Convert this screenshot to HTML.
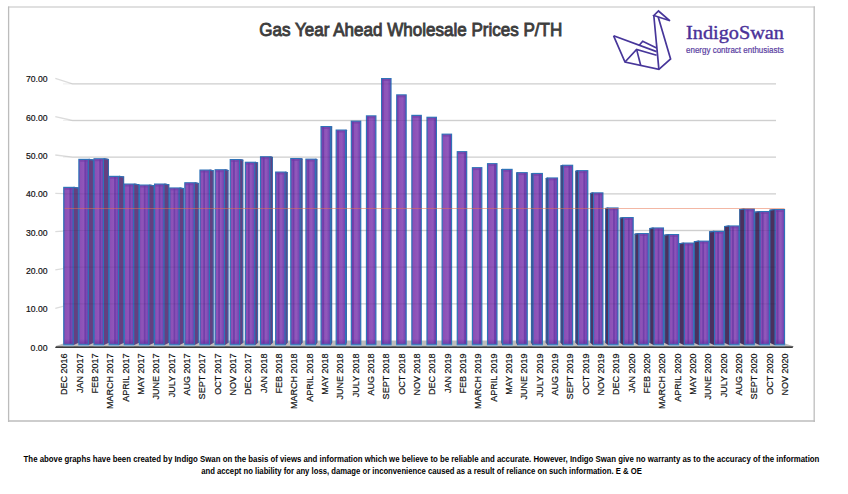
<!DOCTYPE html>
<html><head><meta charset="utf-8">
<style>
html,body{margin:0;padding:0;background:#fff;}
body{width:848px;height:494px;overflow:hidden;position:relative;font-family:"Liberation Sans",sans-serif;}
svg{position:absolute;left:0;top:0;}
text{font-family:"Liberation Sans",sans-serif;}
</style></head><body>
<svg width="848" height="494" viewBox="0 0 848 494">
<defs>
<linearGradient id="fg" x1="0" y1="0" x2="1" y2="0">
<stop offset="0" stop-color="#7d45ad"/>
<stop offset="0.15" stop-color="#8c50b6"/>
<stop offset="0.6" stop-color="#9158bb"/>
<stop offset="0.8" stop-color="#7f4bb5"/>
<stop offset="1" stop-color="#6d3fae"/>
</linearGradient>
<linearGradient id="bg" x1="0" y1="0" x2="0" y2="1">
<stop offset="0" stop-color="#5a2a9a" stop-opacity="0"/>
<stop offset="1" stop-color="#5a2a9a" stop-opacity="0.55"/>
</linearGradient>
</defs>
<rect width="848" height="494" fill="#fff"/>
<line x1="8" y1="7" x2="815" y2="7" stroke="#d6d6d6" stroke-width="1.6"/>
<line x1="8.6" y1="6.5" x2="8.6" y2="422" stroke="#bcbcbc" stroke-width="1.3"/>
<line x1="814.2" y1="6.5" x2="814.2" y2="422" stroke="#c2c2c2" stroke-width="1.4"/>
<line x1="8" y1="421" x2="815" y2="421" stroke="#bdbdbd" stroke-width="1.6"/>
<polyline points="55.3,308.28 72.5,303.83 776,303.83" fill="none" stroke="#dcdcdc" stroke-width="1.3"/>
<polyline points="55.3,269.96 72.5,267.16 776,267.16" fill="none" stroke="#dcdcdc" stroke-width="1.3"/>
<polyline points="55.3,231.64 72.5,230.49 776,230.49" fill="none" stroke="#dcdcdc" stroke-width="1.3"/>
<polyline points="55.3,193.32 72.5,193.82 776,193.82" fill="none" stroke="#dcdcdc" stroke-width="1.3"/>
<polyline points="55.3,155 72.5,157.15 776,157.15" fill="none" stroke="#dcdcdc" stroke-width="1.3"/>
<polyline points="55.3,116.68 72.5,120.48 776,120.48" fill="none" stroke="#dcdcdc" stroke-width="1.3"/>
<polyline points="55.3,78.36 72.5,83.81 776,83.81" fill="none" stroke="#dcdcdc" stroke-width="1.3"/>
<polygon points="72.5,340.4 776,340.4 793.5,346.3 55,346.3" fill="#bdbdbd"/>
<polygon points="56,346.2 793.5,346.2 792.5,348 55,348" fill="#3a3a3a"/>
<g><polygon points="72.27,187.8 73.77,186.8 78.7,187.6 78.7,342.8 73.77,344.9 72.27,344.9" fill="#653f80"/><line x1="73.77" y1="187.3" x2="78.7" y2="188.1" stroke="#2f73b8" stroke-width="1.2"/><line x1="78.25" y1="187.6" x2="78.25" y2="342.8" stroke="#2f6fb0" stroke-width="0.9"/><polygon points="87.4,159.8 88.9,158.8 93.84,159.6 93.84,342.8 88.9,344.9 87.4,344.9" fill="#653f80"/><line x1="88.9" y1="159.3" x2="93.84" y2="160.1" stroke="#2f73b8" stroke-width="1.2"/><line x1="93.39" y1="159.6" x2="93.39" y2="342.8" stroke="#2f6fb0" stroke-width="0.9"/><polygon points="102.53,159.2 104.03,158.2 108.97,159 108.97,342.8 104.03,344.9 102.53,344.9" fill="#653f80"/><line x1="104.03" y1="158.7" x2="108.97" y2="159.5" stroke="#2f73b8" stroke-width="1.2"/><line x1="108.52" y1="159" x2="108.52" y2="342.8" stroke="#2f6fb0" stroke-width="0.9"/><polygon points="117.67,176.8 119.17,175.8 124.1,176.6 124.1,342.8 119.17,344.9 117.67,344.9" fill="#653f80"/><line x1="119.17" y1="176.3" x2="124.1" y2="177.1" stroke="#2f73b8" stroke-width="1.2"/><line x1="123.65" y1="176.6" x2="123.65" y2="342.8" stroke="#2f6fb0" stroke-width="0.9"/><polygon points="132.8,184.5 134.3,183.5 139.24,184.3 139.24,342.8 134.3,344.9 132.8,344.9" fill="#653f80"/><line x1="134.3" y1="184" x2="139.24" y2="184.8" stroke="#2f73b8" stroke-width="1.2"/><line x1="138.79" y1="184.3" x2="138.79" y2="342.8" stroke="#2f6fb0" stroke-width="0.9"/><polygon points="147.94,185.5 149.44,184.5 154.38,185.3 154.38,342.8 149.44,344.9 147.94,344.9" fill="#653f80"/><line x1="149.44" y1="185" x2="154.38" y2="185.8" stroke="#2f73b8" stroke-width="1.2"/><line x1="153.93" y1="185.3" x2="153.93" y2="342.8" stroke="#2f6fb0" stroke-width="0.9"/><polygon points="163.07,184.5 164.57,183.5 169.2,184.3 169.2,342.8 164.57,344.9 163.07,344.9" fill="#653f80"/><line x1="164.57" y1="184" x2="169.2" y2="184.8" stroke="#2f73b8" stroke-width="1.2"/><line x1="168.75" y1="184.3" x2="168.75" y2="342.8" stroke="#2f6fb0" stroke-width="0.9"/><polygon points="178.21,188.4 179.71,187.4 184.01,188.2 184.01,342.8 179.71,344.9 178.21,344.9" fill="#653f80"/><line x1="179.71" y1="187.9" x2="184.01" y2="188.7" stroke="#2f73b8" stroke-width="1.2"/><line x1="183.56" y1="188.2" x2="183.56" y2="342.8" stroke="#2f6fb0" stroke-width="0.9"/><polygon points="193.34,183.2 194.84,182.2 198.82,183 198.82,342.8 194.84,344.9 193.34,344.9" fill="#653f80"/><line x1="194.84" y1="182.7" x2="198.82" y2="183.5" stroke="#2f73b8" stroke-width="1.2"/><line x1="198.37" y1="183" x2="198.37" y2="342.8" stroke="#2f6fb0" stroke-width="0.9"/><polygon points="208.48,170.5 209.98,169.5 213.63,170.3 213.63,342.8 209.98,344.9 208.48,344.9" fill="#653f80"/><line x1="209.98" y1="170" x2="213.63" y2="170.8" stroke="#2f73b8" stroke-width="1.2"/><line x1="213.18" y1="170.3" x2="213.18" y2="342.8" stroke="#2f6fb0" stroke-width="0.9"/><polygon points="223.62,170.2 225.12,169.2 228.44,170 228.44,342.8 225.12,344.9 223.62,344.9" fill="#653f80"/><line x1="225.12" y1="169.7" x2="228.44" y2="170.5" stroke="#2f73b8" stroke-width="1.2"/><line x1="227.99" y1="170" x2="227.99" y2="342.8" stroke="#2f6fb0" stroke-width="0.9"/><polygon points="238.75,160 240.25,159 243.25,159.8 243.25,342.8 240.25,344.9 238.75,344.9" fill="#653f80"/><line x1="240.25" y1="159.5" x2="243.25" y2="160.3" stroke="#2f73b8" stroke-width="1.2"/><line x1="242.8" y1="159.8" x2="242.8" y2="342.8" stroke="#2f6fb0" stroke-width="0.9"/><polygon points="253.88,162.7 255.38,161.7 258.06,162.5 258.06,342.8 255.38,344.9 253.88,344.9" fill="#653f80"/><line x1="255.38" y1="162.2" x2="258.06" y2="163" stroke="#2f73b8" stroke-width="1.2"/><line x1="257.61" y1="162.5" x2="257.61" y2="342.8" stroke="#2f6fb0" stroke-width="0.9"/><polygon points="269.02,157.2 270.52,156.2 272.87,157 272.87,342.8 270.52,344.9 269.02,344.9" fill="#653f80"/><line x1="270.52" y1="156.7" x2="272.87" y2="157.5" stroke="#2f73b8" stroke-width="1.2"/><line x1="272.42" y1="157" x2="272.42" y2="342.8" stroke="#2f6fb0" stroke-width="0.9"/><polygon points="284.16,172.5 285.66,171.5 287.68,172.3 287.68,342.8 285.66,344.9 284.16,344.9" fill="#653f80"/><line x1="285.66" y1="172" x2="287.68" y2="172.8" stroke="#2f73b8" stroke-width="1.2"/><line x1="287.23" y1="172.3" x2="287.23" y2="342.8" stroke="#2f6fb0" stroke-width="0.9"/><polygon points="299.29,159 300.79,158 302.49,158.8 302.49,342.8 300.79,344.9 299.29,344.9" fill="#653f80"/><line x1="300.79" y1="158.5" x2="302.49" y2="159.3" stroke="#2f73b8" stroke-width="1.2"/><line x1="302.04" y1="158.8" x2="302.04" y2="342.8" stroke="#2f6fb0" stroke-width="0.9"/><polygon points="314.43,159.6 315.93,158.6 317.3,159.4 317.3,342.8 315.93,344.9 314.43,344.9" fill="#653f80"/><line x1="315.93" y1="159.1" x2="317.3" y2="159.9" stroke="#2f73b8" stroke-width="1.2"/><line x1="316.85" y1="159.4" x2="316.85" y2="342.8" stroke="#2f6fb0" stroke-width="0.9"/><polygon points="329.56,127 331.06,126 332.11,126.8 332.11,342.8 331.06,344.9 329.56,344.9" fill="#653f80"/><line x1="331.06" y1="126.5" x2="332.11" y2="127.3" stroke="#2f73b8" stroke-width="1.2"/><line x1="331.66" y1="126.8" x2="331.66" y2="342.8" stroke="#2f6fb0" stroke-width="0.9"/><polygon points="344.7,130.5 346.2,129.5 346.92,130.3 346.92,342.8 346.2,344.9 344.7,344.9" fill="#653f80"/><line x1="346.2" y1="130" x2="346.92" y2="130.8" stroke="#2f73b8" stroke-width="1.2"/><line x1="346.47" y1="130.3" x2="346.47" y2="342.8" stroke="#2f6fb0" stroke-width="0.9"/><polygon points="501.35,169.6 502.08,168.8 503.58,169.8 503.58,344.9 502.08,344.9 501.35,342.8" fill="#4c305e"/><line x1="501.35" y1="170.1" x2="502.08" y2="169.3" stroke="#2f73b8" stroke-width="1.2"/><line x1="501.8" y1="169.6" x2="501.8" y2="342.8" stroke="#2f6fb0" stroke-width="0.9"/><polygon points="516.16,172.9 517.22,172.1 518.72,173.1 518.72,344.9 517.22,344.9 516.16,342.8" fill="#4c305e"/><line x1="516.16" y1="173.4" x2="517.22" y2="172.6" stroke="#2f73b8" stroke-width="1.2"/><line x1="516.61" y1="172.9" x2="516.61" y2="342.8" stroke="#2f6fb0" stroke-width="0.9"/><polygon points="530.97,173.7 532.35,172.9 533.85,173.9 533.85,344.9 532.35,344.9 530.97,342.8" fill="#4c305e"/><line x1="530.97" y1="174.2" x2="532.35" y2="173.4" stroke="#2f73b8" stroke-width="1.2"/><line x1="531.42" y1="173.7" x2="531.42" y2="342.8" stroke="#2f6fb0" stroke-width="0.9"/><polygon points="545.78,178.2 547.49,177.4 548.99,178.4 548.99,344.9 547.49,344.9 545.78,342.8" fill="#4c305e"/><line x1="545.78" y1="178.7" x2="547.49" y2="177.9" stroke="#2f73b8" stroke-width="1.2"/><line x1="546.23" y1="178.2" x2="546.23" y2="342.8" stroke="#2f6fb0" stroke-width="0.9"/><polygon points="560.59,165.5 562.62,164.7 564.12,165.7 564.12,344.9 562.62,344.9 560.59,342.8" fill="#4c305e"/><line x1="560.59" y1="166" x2="562.62" y2="165.2" stroke="#2f73b8" stroke-width="1.2"/><line x1="561.04" y1="165.5" x2="561.04" y2="342.8" stroke="#2f6fb0" stroke-width="0.9"/><polygon points="575.4,170.9 577.75,170.1 579.25,171.1 579.25,344.9 577.75,344.9 575.4,342.8" fill="#4c305e"/><line x1="575.4" y1="171.4" x2="577.75" y2="170.6" stroke="#2f73b8" stroke-width="1.2"/><line x1="575.85" y1="170.9" x2="575.85" y2="342.8" stroke="#2f6fb0" stroke-width="0.9"/><polygon points="590.21,193.1 592.89,192.3 594.39,193.3 594.39,344.9 592.89,344.9 590.21,342.8" fill="#4c305e"/><line x1="590.21" y1="193.6" x2="592.89" y2="192.8" stroke="#2f73b8" stroke-width="1.2"/><line x1="590.66" y1="193.1" x2="590.66" y2="342.8" stroke="#2f6fb0" stroke-width="0.9"/><polygon points="605.02,208.2 608.02,207.4 609.52,208.4 609.52,344.9 608.02,344.9 605.02,342.8" fill="#4c305e"/><line x1="605.02" y1="208.7" x2="608.02" y2="207.9" stroke="#2f73b8" stroke-width="1.2"/><line x1="605.47" y1="208.2" x2="605.47" y2="342.8" stroke="#2f6fb0" stroke-width="0.9"/><polygon points="619.83,217.8 623.16,217 624.66,218 624.66,344.9 623.16,344.9 619.83,342.8" fill="#4c305e"/><line x1="619.83" y1="218.3" x2="623.16" y2="217.5" stroke="#2f73b8" stroke-width="1.2"/><line x1="620.28" y1="217.8" x2="620.28" y2="342.8" stroke="#2f6fb0" stroke-width="0.9"/><polygon points="634.64,233.8 638.3,233 639.8,234 639.8,344.9 638.3,344.9 634.64,342.8" fill="#4c305e"/><line x1="634.64" y1="234.3" x2="638.3" y2="233.5" stroke="#2f73b8" stroke-width="1.2"/><line x1="635.09" y1="233.8" x2="635.09" y2="342.8" stroke="#2f6fb0" stroke-width="0.9"/><polygon points="649.45,228.2 653.43,227.4 654.93,228.4 654.93,344.9 653.43,344.9 649.45,342.8" fill="#4c305e"/><line x1="649.45" y1="228.7" x2="653.43" y2="227.9" stroke="#2f73b8" stroke-width="1.2"/><line x1="649.9" y1="228.2" x2="649.9" y2="342.8" stroke="#2f6fb0" stroke-width="0.9"/><polygon points="664.26,234.8 668.57,234 670.07,235 670.07,344.9 668.57,344.9 664.26,342.8" fill="#4c305e"/><line x1="664.26" y1="235.3" x2="668.57" y2="234.5" stroke="#2f73b8" stroke-width="1.2"/><line x1="664.71" y1="234.8" x2="664.71" y2="342.8" stroke="#2f6fb0" stroke-width="0.9"/><polygon points="679.07,243.3 683.7,242.5 685.2,243.5 685.2,344.9 683.7,344.9 679.07,342.8" fill="#4c305e"/><line x1="679.07" y1="243.8" x2="683.7" y2="243" stroke="#2f73b8" stroke-width="1.2"/><line x1="679.52" y1="243.3" x2="679.52" y2="342.8" stroke="#2f6fb0" stroke-width="0.9"/><polygon points="693.9,241.4 698.84,240.6 700.34,241.6 700.34,344.9 698.84,344.9 693.9,342.8" fill="#4c305e"/><line x1="693.9" y1="241.9" x2="698.84" y2="241.1" stroke="#2f73b8" stroke-width="1.2"/><line x1="694.35" y1="241.4" x2="694.35" y2="342.8" stroke="#2f6fb0" stroke-width="0.9"/><polygon points="709.04,231.6 713.97,230.8 715.47,231.8 715.47,344.9 713.97,344.9 709.04,342.8" fill="#4c305e"/><line x1="709.04" y1="232.1" x2="713.97" y2="231.3" stroke="#2f73b8" stroke-width="1.2"/><line x1="709.49" y1="231.6" x2="709.49" y2="342.8" stroke="#2f6fb0" stroke-width="0.9"/><polygon points="724.17,226.2 729.11,225.4 730.61,226.4 730.61,344.9 729.11,344.9 724.17,342.8" fill="#4c305e"/><line x1="724.17" y1="226.7" x2="729.11" y2="225.9" stroke="#2f73b8" stroke-width="1.2"/><line x1="724.62" y1="226.2" x2="724.62" y2="342.8" stroke="#2f6fb0" stroke-width="0.9"/><polygon points="739.31,209.2 744.24,208.4 745.74,209.4 745.74,344.9 744.24,344.9 739.31,342.8" fill="#4c305e"/><line x1="739.31" y1="209.7" x2="744.24" y2="208.9" stroke="#2f73b8" stroke-width="1.2"/><line x1="739.76" y1="209.2" x2="739.76" y2="342.8" stroke="#2f6fb0" stroke-width="0.9"/><polygon points="754.44,211.8 759.38,211 760.88,212 760.88,344.9 759.38,344.9 754.44,342.8" fill="#4c305e"/><line x1="754.44" y1="212.3" x2="759.38" y2="211.5" stroke="#2f73b8" stroke-width="1.2"/><line x1="754.89" y1="211.8" x2="754.89" y2="342.8" stroke="#2f6fb0" stroke-width="0.9"/><polygon points="769.58,209.8 774.51,209 776.01,210 776.01,344.9 774.51,344.9 769.58,342.8" fill="#4c305e"/><line x1="769.58" y1="210.3" x2="774.51" y2="209.5" stroke="#2f73b8" stroke-width="1.2"/><line x1="770.03" y1="209.8" x2="770.03" y2="342.8" stroke="#2f6fb0" stroke-width="0.9"/></g>
<rect x="63.77" y="187.4" width="9.4" height="156.9" fill="url(#fg)" stroke="#2f73b8" stroke-width="1.2"/>
<rect x="64.37" y="188" width="8.2" height="1.8" fill="#7442aa" opacity="0.75"/>
<rect x="69.45" y="188" width="1.8" height="155.7" fill="#6a3aa6" opacity="0.8"/>
<rect x="64.37" y="338.9" width="8.2" height="4.8" fill="url(#bg)"/>
<rect x="63.17" y="344.9" width="10.6" height="1.3" fill="#8aaed2"/>
<rect x="78.9" y="159.4" width="9.4" height="184.9" fill="url(#fg)" stroke="#2f73b8" stroke-width="1.2"/>
<rect x="79.5" y="160" width="8.2" height="1.8" fill="#7442aa" opacity="0.75"/>
<rect x="84.32" y="160" width="1.8" height="183.7" fill="#6a3aa6" opacity="0.8"/>
<rect x="79.5" y="338.9" width="8.2" height="4.8" fill="url(#bg)"/>
<rect x="78.3" y="344.9" width="10.6" height="1.3" fill="#8aaed2"/>
<rect x="94.03" y="158.8" width="9.4" height="185.5" fill="url(#fg)" stroke="#2f73b8" stroke-width="1.2"/>
<rect x="94.64" y="159.4" width="8.2" height="1.8" fill="#7442aa" opacity="0.75"/>
<rect x="99.2" y="159.4" width="1.8" height="184.3" fill="#6a3aa6" opacity="0.8"/>
<rect x="94.64" y="338.9" width="8.2" height="4.8" fill="url(#bg)"/>
<rect x="93.44" y="344.9" width="10.6" height="1.3" fill="#8aaed2"/>
<rect x="109.17" y="176.4" width="9.4" height="167.9" fill="url(#fg)" stroke="#2f73b8" stroke-width="1.2"/>
<rect x="109.77" y="177" width="8.2" height="1.8" fill="#7442aa" opacity="0.75"/>
<rect x="114.07" y="177" width="1.8" height="166.7" fill="#6a3aa6" opacity="0.8"/>
<rect x="109.77" y="338.9" width="8.2" height="4.8" fill="url(#bg)"/>
<rect x="108.57" y="344.9" width="10.6" height="1.3" fill="#8aaed2"/>
<rect x="124.3" y="184.1" width="9.4" height="160.2" fill="url(#fg)" stroke="#2f73b8" stroke-width="1.2"/>
<rect x="124.9" y="184.7" width="8.2" height="1.8" fill="#7442aa" opacity="0.75"/>
<rect x="128.94" y="184.7" width="1.8" height="159" fill="#6a3aa6" opacity="0.8"/>
<rect x="124.9" y="338.9" width="8.2" height="4.8" fill="url(#bg)"/>
<rect x="123.7" y="344.9" width="10.6" height="1.3" fill="#8aaed2"/>
<rect x="139.44" y="185.1" width="9.4" height="159.2" fill="url(#fg)" stroke="#2f73b8" stroke-width="1.2"/>
<rect x="140.04" y="185.7" width="8.2" height="1.8" fill="#7442aa" opacity="0.75"/>
<rect x="143.81" y="185.7" width="1.8" height="158" fill="#6a3aa6" opacity="0.8"/>
<rect x="140.04" y="338.9" width="8.2" height="4.8" fill="url(#bg)"/>
<rect x="138.84" y="344.9" width="10.6" height="1.3" fill="#8aaed2"/>
<rect x="154.57" y="184.1" width="9.4" height="160.2" fill="url(#fg)" stroke="#2f73b8" stroke-width="1.2"/>
<rect x="155.17" y="184.7" width="8.2" height="1.8" fill="#7442aa" opacity="0.75"/>
<rect x="158.69" y="184.7" width="1.8" height="159" fill="#6a3aa6" opacity="0.8"/>
<rect x="155.17" y="338.9" width="8.2" height="4.8" fill="url(#bg)"/>
<rect x="153.97" y="344.9" width="10.6" height="1.3" fill="#8aaed2"/>
<rect x="169.71" y="188" width="9.4" height="156.3" fill="url(#fg)" stroke="#2f73b8" stroke-width="1.2"/>
<rect x="170.31" y="188.6" width="8.2" height="1.8" fill="#7442aa" opacity="0.75"/>
<rect x="173.56" y="188.6" width="1.8" height="155.1" fill="#6a3aa6" opacity="0.8"/>
<rect x="170.31" y="338.9" width="8.2" height="4.8" fill="url(#bg)"/>
<rect x="169.11" y="344.9" width="10.6" height="1.3" fill="#8aaed2"/>
<rect x="184.84" y="182.8" width="9.4" height="161.5" fill="url(#fg)" stroke="#2f73b8" stroke-width="1.2"/>
<rect x="185.44" y="183.4" width="8.2" height="1.8" fill="#7442aa" opacity="0.75"/>
<rect x="188.43" y="183.4" width="1.8" height="160.3" fill="#6a3aa6" opacity="0.8"/>
<rect x="185.44" y="338.9" width="8.2" height="4.8" fill="url(#bg)"/>
<rect x="184.25" y="344.9" width="10.6" height="1.3" fill="#8aaed2"/>
<rect x="199.98" y="170.1" width="9.4" height="174.2" fill="url(#fg)" stroke="#2f73b8" stroke-width="1.2"/>
<rect x="200.58" y="170.7" width="8.2" height="1.8" fill="#7442aa" opacity="0.75"/>
<rect x="203.3" y="170.7" width="1.8" height="173" fill="#6a3aa6" opacity="0.8"/>
<rect x="200.58" y="338.9" width="8.2" height="4.8" fill="url(#bg)"/>
<rect x="199.38" y="344.9" width="10.6" height="1.3" fill="#8aaed2"/>
<rect x="215.12" y="169.8" width="9.4" height="174.5" fill="url(#fg)" stroke="#2f73b8" stroke-width="1.2"/>
<rect x="215.72" y="170.4" width="8.2" height="1.8" fill="#7442aa" opacity="0.75"/>
<rect x="218.18" y="170.4" width="1.8" height="173.3" fill="#6a3aa6" opacity="0.8"/>
<rect x="215.72" y="338.9" width="8.2" height="4.8" fill="url(#bg)"/>
<rect x="214.52" y="344.9" width="10.6" height="1.3" fill="#8aaed2"/>
<rect x="230.25" y="159.6" width="9.4" height="184.7" fill="url(#fg)" stroke="#2f73b8" stroke-width="1.2"/>
<rect x="230.85" y="160.2" width="8.2" height="1.8" fill="#7442aa" opacity="0.75"/>
<rect x="233.05" y="160.2" width="1.8" height="183.5" fill="#6a3aa6" opacity="0.8"/>
<rect x="230.85" y="338.9" width="8.2" height="4.8" fill="url(#bg)"/>
<rect x="229.65" y="344.9" width="10.6" height="1.3" fill="#8aaed2"/>
<rect x="245.38" y="162.3" width="9.4" height="182" fill="url(#fg)" stroke="#2f73b8" stroke-width="1.2"/>
<rect x="245.98" y="162.9" width="8.2" height="1.8" fill="#7442aa" opacity="0.75"/>
<rect x="247.92" y="162.9" width="1.8" height="180.8" fill="#6a3aa6" opacity="0.8"/>
<rect x="245.98" y="338.9" width="8.2" height="4.8" fill="url(#bg)"/>
<rect x="244.78" y="344.9" width="10.6" height="1.3" fill="#8aaed2"/>
<rect x="260.52" y="156.8" width="9.4" height="187.5" fill="url(#fg)" stroke="#2f73b8" stroke-width="1.2"/>
<rect x="261.12" y="157.4" width="8.2" height="1.8" fill="#7442aa" opacity="0.75"/>
<rect x="262.79" y="157.4" width="1.8" height="186.3" fill="#6a3aa6" opacity="0.8"/>
<rect x="261.12" y="338.9" width="8.2" height="4.8" fill="url(#bg)"/>
<rect x="259.92" y="344.9" width="10.6" height="1.3" fill="#8aaed2"/>
<rect x="275.66" y="172.1" width="9.4" height="172.2" fill="url(#fg)" stroke="#2f73b8" stroke-width="1.2"/>
<rect x="276.25" y="172.7" width="8.2" height="1.8" fill="#7442aa" opacity="0.75"/>
<rect x="277.67" y="172.7" width="1.8" height="171" fill="#6a3aa6" opacity="0.8"/>
<rect x="276.25" y="338.9" width="8.2" height="4.8" fill="url(#bg)"/>
<rect x="275.06" y="344.9" width="10.6" height="1.3" fill="#8aaed2"/>
<rect x="290.79" y="158.6" width="9.4" height="185.7" fill="url(#fg)" stroke="#2f73b8" stroke-width="1.2"/>
<rect x="291.39" y="159.2" width="8.2" height="1.8" fill="#7442aa" opacity="0.75"/>
<rect x="292.54" y="159.2" width="1.8" height="184.5" fill="#6a3aa6" opacity="0.8"/>
<rect x="291.39" y="338.9" width="8.2" height="4.8" fill="url(#bg)"/>
<rect x="290.19" y="344.9" width="10.6" height="1.3" fill="#8aaed2"/>
<rect x="305.93" y="159.2" width="9.4" height="185.1" fill="url(#fg)" stroke="#2f73b8" stroke-width="1.2"/>
<rect x="306.52" y="159.8" width="8.2" height="1.8" fill="#7442aa" opacity="0.75"/>
<rect x="307.41" y="159.8" width="1.8" height="183.9" fill="#6a3aa6" opacity="0.8"/>
<rect x="306.52" y="338.9" width="8.2" height="4.8" fill="url(#bg)"/>
<rect x="305.32" y="344.9" width="10.6" height="1.3" fill="#8aaed2"/>
<rect x="321.06" y="126.6" width="9.4" height="217.7" fill="url(#fg)" stroke="#2f73b8" stroke-width="1.2"/>
<rect x="321.66" y="127.2" width="8.2" height="1.8" fill="#7442aa" opacity="0.75"/>
<rect x="322.29" y="127.2" width="1.8" height="216.5" fill="#6a3aa6" opacity="0.8"/>
<rect x="321.66" y="338.9" width="8.2" height="4.8" fill="url(#bg)"/>
<rect x="320.46" y="344.9" width="10.6" height="1.3" fill="#8aaed2"/>
<rect x="336.2" y="130.1" width="9.4" height="214.2" fill="url(#fg)" stroke="#2f73b8" stroke-width="1.2"/>
<rect x="336.8" y="130.7" width="8.2" height="1.8" fill="#7442aa" opacity="0.75"/>
<rect x="337.16" y="130.7" width="1.8" height="213" fill="#6a3aa6" opacity="0.8"/>
<rect x="336.8" y="338.9" width="8.2" height="4.8" fill="url(#bg)"/>
<rect x="335.6" y="344.9" width="10.6" height="1.3" fill="#8aaed2"/>
<rect x="351.33" y="121.2" width="9.4" height="223.1" fill="url(#fg)" stroke="#2f73b8" stroke-width="1.2"/>
<rect x="351.93" y="121.8" width="8.2" height="1.8" fill="#7442aa" opacity="0.75"/>
<rect x="352.03" y="121.8" width="1.8" height="221.9" fill="#6a3aa6" opacity="0.8"/>
<rect x="351.93" y="338.9" width="8.2" height="4.8" fill="url(#bg)"/>
<rect x="350.73" y="344.9" width="10.6" height="1.3" fill="#8aaed2"/>
<rect x="366.47" y="115.9" width="9.4" height="228.4" fill="url(#fg)" stroke="#2f73b8" stroke-width="1.2"/>
<rect x="367.06" y="116.5" width="8.2" height="1.8" fill="#7442aa" opacity="0.75"/>
<rect x="367.06" y="116.5" width="1.64" height="227.2" fill="#6a3aa6" opacity="0.8"/>
<rect x="367.06" y="338.9" width="8.2" height="4.8" fill="url(#bg)"/>
<rect x="365.87" y="344.9" width="10.6" height="1.3" fill="#8aaed2"/>
<rect x="381.6" y="78.6" width="9.4" height="265.7" fill="url(#fg)" stroke="#2f73b8" stroke-width="1.2"/>
<rect x="382.2" y="79.2" width="8.2" height="1.8" fill="#7442aa" opacity="0.75"/>
<rect x="382.2" y="79.2" width="1.38" height="264.5" fill="#6a3aa6" opacity="0.8"/>
<rect x="382.2" y="338.9" width="8.2" height="4.8" fill="url(#bg)"/>
<rect x="381" y="344.9" width="10.6" height="1.3" fill="#8aaed2"/>
<rect x="396.74" y="94.9" width="9.4" height="249.4" fill="url(#fg)" stroke="#2f73b8" stroke-width="1.2"/>
<rect x="397.33" y="95.5" width="8.2" height="1.8" fill="#7442aa" opacity="0.75"/>
<rect x="397.33" y="95.5" width="1.11" height="248.2" fill="#6a3aa6" opacity="0.8"/>
<rect x="397.33" y="338.9" width="8.2" height="4.8" fill="url(#bg)"/>
<rect x="396.13" y="344.9" width="10.6" height="1.3" fill="#8aaed2"/>
<rect x="411.87" y="115.4" width="9.4" height="228.9" fill="url(#fg)" stroke="#2f73b8" stroke-width="1.2"/>
<rect x="412.47" y="116" width="8.2" height="1.8" fill="#7442aa" opacity="0.75"/>
<rect x="419.72" y="116" width="0.95" height="227.7" fill="#6a3aa6" opacity="0.8"/>
<rect x="412.47" y="338.9" width="8.2" height="4.8" fill="url(#bg)"/>
<rect x="411.27" y="344.9" width="10.6" height="1.3" fill="#8aaed2"/>
<rect x="427" y="117.3" width="9.4" height="227" fill="url(#fg)" stroke="#2f73b8" stroke-width="1.2"/>
<rect x="427.6" y="117.9" width="8.2" height="1.8" fill="#7442aa" opacity="0.75"/>
<rect x="434.59" y="117.9" width="1.21" height="225.8" fill="#6a3aa6" opacity="0.8"/>
<rect x="427.6" y="338.9" width="8.2" height="4.8" fill="url(#bg)"/>
<rect x="426.4" y="344.9" width="10.6" height="1.3" fill="#8aaed2"/>
<rect x="442.14" y="134.2" width="9.4" height="210.1" fill="url(#fg)" stroke="#2f73b8" stroke-width="1.2"/>
<rect x="442.74" y="134.8" width="8.2" height="1.8" fill="#7442aa" opacity="0.75"/>
<rect x="449.47" y="134.8" width="1.47" height="208.9" fill="#6a3aa6" opacity="0.8"/>
<rect x="442.74" y="338.9" width="8.2" height="4.8" fill="url(#bg)"/>
<rect x="441.54" y="344.9" width="10.6" height="1.3" fill="#8aaed2"/>
<rect x="457.28" y="151.7" width="9.4" height="192.6" fill="url(#fg)" stroke="#2f73b8" stroke-width="1.2"/>
<rect x="457.88" y="152.3" width="8.2" height="1.8" fill="#7442aa" opacity="0.75"/>
<rect x="464.34" y="152.3" width="1.74" height="191.4" fill="#6a3aa6" opacity="0.8"/>
<rect x="457.88" y="338.9" width="8.2" height="4.8" fill="url(#bg)"/>
<rect x="456.68" y="344.9" width="10.6" height="1.3" fill="#8aaed2"/>
<rect x="472.41" y="167.7" width="9.4" height="176.6" fill="url(#fg)" stroke="#2f73b8" stroke-width="1.2"/>
<rect x="473.01" y="168.3" width="8.2" height="1.8" fill="#7442aa" opacity="0.75"/>
<rect x="479.21" y="168.3" width="1.8" height="175.4" fill="#6a3aa6" opacity="0.8"/>
<rect x="473.01" y="338.9" width="8.2" height="4.8" fill="url(#bg)"/>
<rect x="471.81" y="344.9" width="10.6" height="1.3" fill="#8aaed2"/>
<rect x="487.55" y="163.7" width="9.4" height="180.6" fill="url(#fg)" stroke="#2f73b8" stroke-width="1.2"/>
<rect x="488.14" y="164.3" width="8.2" height="1.8" fill="#7442aa" opacity="0.75"/>
<rect x="494.08" y="164.3" width="1.8" height="179.4" fill="#6a3aa6" opacity="0.8"/>
<rect x="488.14" y="338.9" width="8.2" height="4.8" fill="url(#bg)"/>
<rect x="486.94" y="344.9" width="10.6" height="1.3" fill="#8aaed2"/>
<rect x="502.68" y="169.4" width="9.4" height="174.9" fill="url(#fg)" stroke="#2f73b8" stroke-width="1.2"/>
<rect x="503.28" y="170" width="8.2" height="1.8" fill="#7442aa" opacity="0.75"/>
<rect x="508.96" y="170" width="1.8" height="173.7" fill="#6a3aa6" opacity="0.8"/>
<rect x="503.28" y="338.9" width="8.2" height="4.8" fill="url(#bg)"/>
<rect x="502.08" y="344.9" width="10.6" height="1.3" fill="#8aaed2"/>
<rect x="517.82" y="172.7" width="9.4" height="171.6" fill="url(#fg)" stroke="#2f73b8" stroke-width="1.2"/>
<rect x="518.42" y="173.3" width="8.2" height="1.8" fill="#7442aa" opacity="0.75"/>
<rect x="523.83" y="173.3" width="1.8" height="170.4" fill="#6a3aa6" opacity="0.8"/>
<rect x="518.42" y="338.9" width="8.2" height="4.8" fill="url(#bg)"/>
<rect x="517.22" y="344.9" width="10.6" height="1.3" fill="#8aaed2"/>
<rect x="532.95" y="173.5" width="9.4" height="170.8" fill="url(#fg)" stroke="#2f73b8" stroke-width="1.2"/>
<rect x="533.55" y="174.1" width="8.2" height="1.8" fill="#7442aa" opacity="0.75"/>
<rect x="538.7" y="174.1" width="1.8" height="169.6" fill="#6a3aa6" opacity="0.8"/>
<rect x="533.55" y="338.9" width="8.2" height="4.8" fill="url(#bg)"/>
<rect x="532.35" y="344.9" width="10.6" height="1.3" fill="#8aaed2"/>
<rect x="548.09" y="178" width="9.4" height="166.3" fill="url(#fg)" stroke="#2f73b8" stroke-width="1.2"/>
<rect x="548.69" y="178.6" width="8.2" height="1.8" fill="#7442aa" opacity="0.75"/>
<rect x="553.57" y="178.6" width="1.8" height="165.1" fill="#6a3aa6" opacity="0.8"/>
<rect x="548.69" y="338.9" width="8.2" height="4.8" fill="url(#bg)"/>
<rect x="547.49" y="344.9" width="10.6" height="1.3" fill="#8aaed2"/>
<rect x="563.22" y="165.3" width="9.4" height="179" fill="url(#fg)" stroke="#2f73b8" stroke-width="1.2"/>
<rect x="563.82" y="165.9" width="8.2" height="1.8" fill="#7442aa" opacity="0.75"/>
<rect x="568.45" y="165.9" width="1.8" height="177.8" fill="#6a3aa6" opacity="0.8"/>
<rect x="563.82" y="338.9" width="8.2" height="4.8" fill="url(#bg)"/>
<rect x="562.62" y="344.9" width="10.6" height="1.3" fill="#8aaed2"/>
<rect x="578.36" y="170.7" width="9.4" height="173.6" fill="url(#fg)" stroke="#2f73b8" stroke-width="1.2"/>
<rect x="578.96" y="171.3" width="8.2" height="1.8" fill="#7442aa" opacity="0.75"/>
<rect x="583.32" y="171.3" width="1.8" height="172.4" fill="#6a3aa6" opacity="0.8"/>
<rect x="578.96" y="338.9" width="8.2" height="4.8" fill="url(#bg)"/>
<rect x="577.75" y="344.9" width="10.6" height="1.3" fill="#8aaed2"/>
<rect x="593.49" y="192.9" width="9.4" height="151.4" fill="url(#fg)" stroke="#2f73b8" stroke-width="1.2"/>
<rect x="594.09" y="193.5" width="8.2" height="1.8" fill="#7442aa" opacity="0.75"/>
<rect x="598.19" y="193.5" width="1.8" height="150.2" fill="#6a3aa6" opacity="0.8"/>
<rect x="594.09" y="338.9" width="8.2" height="4.8" fill="url(#bg)"/>
<rect x="592.89" y="344.9" width="10.6" height="1.3" fill="#8aaed2"/>
<rect x="608.62" y="208" width="9.4" height="136.3" fill="url(#fg)" stroke="#2f73b8" stroke-width="1.2"/>
<rect x="609.23" y="208.6" width="8.2" height="1.8" fill="#7442aa" opacity="0.75"/>
<rect x="613.06" y="208.6" width="1.8" height="135.1" fill="#6a3aa6" opacity="0.8"/>
<rect x="609.23" y="338.9" width="8.2" height="4.8" fill="url(#bg)"/>
<rect x="608.02" y="344.9" width="10.6" height="1.3" fill="#8aaed2"/>
<rect x="623.76" y="217.6" width="9.4" height="126.7" fill="url(#fg)" stroke="#2f73b8" stroke-width="1.2"/>
<rect x="624.36" y="218.2" width="8.2" height="1.8" fill="#7442aa" opacity="0.75"/>
<rect x="627.94" y="218.2" width="1.8" height="125.5" fill="#6a3aa6" opacity="0.8"/>
<rect x="624.36" y="338.9" width="8.2" height="4.8" fill="url(#bg)"/>
<rect x="623.16" y="344.9" width="10.6" height="1.3" fill="#8aaed2"/>
<rect x="638.9" y="233.6" width="9.4" height="110.7" fill="url(#fg)" stroke="#2f73b8" stroke-width="1.2"/>
<rect x="639.5" y="234.2" width="8.2" height="1.8" fill="#7442aa" opacity="0.75"/>
<rect x="642.81" y="234.2" width="1.8" height="109.5" fill="#6a3aa6" opacity="0.8"/>
<rect x="639.5" y="338.9" width="8.2" height="4.8" fill="url(#bg)"/>
<rect x="638.3" y="344.9" width="10.6" height="1.3" fill="#8aaed2"/>
<rect x="654.03" y="228" width="9.4" height="116.3" fill="url(#fg)" stroke="#2f73b8" stroke-width="1.2"/>
<rect x="654.63" y="228.6" width="8.2" height="1.8" fill="#7442aa" opacity="0.75"/>
<rect x="657.68" y="228.6" width="1.8" height="115.1" fill="#6a3aa6" opacity="0.8"/>
<rect x="654.63" y="338.9" width="8.2" height="4.8" fill="url(#bg)"/>
<rect x="653.43" y="344.9" width="10.6" height="1.3" fill="#8aaed2"/>
<rect x="669.17" y="234.6" width="9.4" height="109.7" fill="url(#fg)" stroke="#2f73b8" stroke-width="1.2"/>
<rect x="669.77" y="235.2" width="8.2" height="1.8" fill="#7442aa" opacity="0.75"/>
<rect x="672.56" y="235.2" width="1.8" height="108.5" fill="#6a3aa6" opacity="0.8"/>
<rect x="669.77" y="338.9" width="8.2" height="4.8" fill="url(#bg)"/>
<rect x="668.57" y="344.9" width="10.6" height="1.3" fill="#8aaed2"/>
<rect x="684.3" y="243.1" width="9.4" height="101.2" fill="url(#fg)" stroke="#2f73b8" stroke-width="1.2"/>
<rect x="684.9" y="243.7" width="8.2" height="1.8" fill="#7442aa" opacity="0.75"/>
<rect x="687.43" y="243.7" width="1.8" height="100" fill="#6a3aa6" opacity="0.8"/>
<rect x="684.9" y="338.9" width="8.2" height="4.8" fill="url(#bg)"/>
<rect x="683.7" y="344.9" width="10.6" height="1.3" fill="#8aaed2"/>
<rect x="699.44" y="241.2" width="9.4" height="103.1" fill="url(#fg)" stroke="#2f73b8" stroke-width="1.2"/>
<rect x="700.04" y="241.8" width="8.2" height="1.8" fill="#7442aa" opacity="0.75"/>
<rect x="702.3" y="241.8" width="1.8" height="101.9" fill="#6a3aa6" opacity="0.8"/>
<rect x="700.04" y="338.9" width="8.2" height="4.8" fill="url(#bg)"/>
<rect x="698.84" y="344.9" width="10.6" height="1.3" fill="#8aaed2"/>
<rect x="714.57" y="231.4" width="9.4" height="112.9" fill="url(#fg)" stroke="#2f73b8" stroke-width="1.2"/>
<rect x="715.17" y="232" width="8.2" height="1.8" fill="#7442aa" opacity="0.75"/>
<rect x="717.17" y="232" width="1.8" height="111.7" fill="#6a3aa6" opacity="0.8"/>
<rect x="715.17" y="338.9" width="8.2" height="4.8" fill="url(#bg)"/>
<rect x="713.97" y="344.9" width="10.6" height="1.3" fill="#8aaed2"/>
<rect x="729.71" y="226" width="9.4" height="118.3" fill="url(#fg)" stroke="#2f73b8" stroke-width="1.2"/>
<rect x="730.31" y="226.6" width="8.2" height="1.8" fill="#7442aa" opacity="0.75"/>
<rect x="732.05" y="226.6" width="1.8" height="117.1" fill="#6a3aa6" opacity="0.8"/>
<rect x="730.31" y="338.9" width="8.2" height="4.8" fill="url(#bg)"/>
<rect x="729.11" y="344.9" width="10.6" height="1.3" fill="#8aaed2"/>
<rect x="744.84" y="209" width="9.4" height="135.3" fill="url(#fg)" stroke="#2f73b8" stroke-width="1.2"/>
<rect x="745.44" y="209.6" width="8.2" height="1.8" fill="#7442aa" opacity="0.75"/>
<rect x="746.92" y="209.6" width="1.8" height="134.1" fill="#6a3aa6" opacity="0.8"/>
<rect x="745.44" y="338.9" width="8.2" height="4.8" fill="url(#bg)"/>
<rect x="744.24" y="344.9" width="10.6" height="1.3" fill="#8aaed2"/>
<rect x="759.98" y="211.6" width="9.4" height="132.7" fill="url(#fg)" stroke="#2f73b8" stroke-width="1.2"/>
<rect x="760.58" y="212.2" width="8.2" height="1.8" fill="#7442aa" opacity="0.75"/>
<rect x="761.79" y="212.2" width="1.8" height="131.5" fill="#6a3aa6" opacity="0.8"/>
<rect x="760.58" y="338.9" width="8.2" height="4.8" fill="url(#bg)"/>
<rect x="759.38" y="344.9" width="10.6" height="1.3" fill="#8aaed2"/>
<rect x="775.11" y="209.6" width="9.4" height="134.7" fill="url(#fg)" stroke="#2f73b8" stroke-width="1.2"/>
<rect x="775.71" y="210.2" width="8.2" height="1.8" fill="#7442aa" opacity="0.75"/>
<rect x="776.66" y="210.2" width="1.8" height="133.5" fill="#6a3aa6" opacity="0.8"/>
<rect x="775.71" y="338.9" width="8.2" height="4.8" fill="url(#bg)"/>
<rect x="774.51" y="344.9" width="10.6" height="1.3" fill="#8aaed2"/>
<line x1="63" y1="303.83" x2="776" y2="303.83" stroke="#000" stroke-opacity="0.06" stroke-width="1.2"/>
<line x1="63" y1="267.16" x2="776" y2="267.16" stroke="#000" stroke-opacity="0.06" stroke-width="1.2"/>
<line x1="63" y1="230.49" x2="776" y2="230.49" stroke="#000" stroke-opacity="0.06" stroke-width="1.2"/>
<line x1="63" y1="193.82" x2="776" y2="193.82" stroke="#000" stroke-opacity="0.06" stroke-width="1.2"/>
<line x1="63" y1="157.15" x2="776" y2="157.15" stroke="#000" stroke-opacity="0.06" stroke-width="1.2"/>
<line x1="63" y1="120.48" x2="776" y2="120.48" stroke="#000" stroke-opacity="0.06" stroke-width="1.2"/>
<line x1="63" y1="83.81" x2="776" y2="83.81" stroke="#000" stroke-opacity="0.06" stroke-width="1.2"/>
<line x1="64.6" y1="208.5" x2="784.6" y2="208.5" stroke="#e8704a" stroke-opacity="0.5" stroke-width="1.0"/>
<text x="47.6" y="350.5" text-anchor="end" font-size="9.5" fill="#111" stroke="#111" stroke-width="0.2" textLength="17.0" lengthAdjust="spacingAndGlyphs">0.00</text>
<text x="47.6" y="312.18" text-anchor="end" font-size="9.5" fill="#111" stroke="#111" stroke-width="0.2" textLength="21.6" lengthAdjust="spacingAndGlyphs">10.00</text>
<text x="47.6" y="273.86" text-anchor="end" font-size="9.5" fill="#111" stroke="#111" stroke-width="0.2" textLength="21.6" lengthAdjust="spacingAndGlyphs">20.00</text>
<text x="47.6" y="235.54" text-anchor="end" font-size="9.5" fill="#111" stroke="#111" stroke-width="0.2" textLength="21.6" lengthAdjust="spacingAndGlyphs">30.00</text>
<text x="47.6" y="197.22" text-anchor="end" font-size="9.5" fill="#111" stroke="#111" stroke-width="0.2" textLength="21.6" lengthAdjust="spacingAndGlyphs">40.00</text>
<text x="47.6" y="158.9" text-anchor="end" font-size="9.5" fill="#111" stroke="#111" stroke-width="0.2" textLength="21.6" lengthAdjust="spacingAndGlyphs">50.00</text>
<text x="47.6" y="120.58" text-anchor="end" font-size="9.5" fill="#111" stroke="#111" stroke-width="0.2" textLength="21.6" lengthAdjust="spacingAndGlyphs">60.00</text>
<text x="47.6" y="82.26" text-anchor="end" font-size="9.5" fill="#111" stroke="#111" stroke-width="0.2" textLength="21.6" lengthAdjust="spacingAndGlyphs">70.00</text>
<text transform="translate(67.35,353.5) rotate(-90)" text-anchor="end" font-size="9" fill="#111" stroke="#111" stroke-width="0.2">DEC 2016</text>
<text transform="translate(82.68,353.5) rotate(-90)" text-anchor="end" font-size="9" fill="#111" stroke="#111" stroke-width="0.2">JAN 2017</text>
<text transform="translate(98.01,353.5) rotate(-90)" text-anchor="end" font-size="9" fill="#111" stroke="#111" stroke-width="0.2">FEB 2017</text>
<text transform="translate(113.34,353.5) rotate(-90)" text-anchor="end" font-size="9" fill="#111" stroke="#111" stroke-width="0.2">MARCH 2017</text>
<text transform="translate(128.67,353.5) rotate(-90)" text-anchor="end" font-size="9" fill="#111" stroke="#111" stroke-width="0.2">APRIL 2017</text>
<text transform="translate(144,353.5) rotate(-90)" text-anchor="end" font-size="9" fill="#111" stroke="#111" stroke-width="0.2">MAY 2017</text>
<text transform="translate(159.34,353.5) rotate(-90)" text-anchor="end" font-size="9" fill="#111" stroke="#111" stroke-width="0.2">JUNE 2017</text>
<text transform="translate(174.67,353.5) rotate(-90)" text-anchor="end" font-size="9" fill="#111" stroke="#111" stroke-width="0.2">JULY 2017</text>
<text transform="translate(190,353.5) rotate(-90)" text-anchor="end" font-size="9" fill="#111" stroke="#111" stroke-width="0.2">AUG 2017</text>
<text transform="translate(205.33,353.5) rotate(-90)" text-anchor="end" font-size="9" fill="#111" stroke="#111" stroke-width="0.2">SEPT 2017</text>
<text transform="translate(220.66,353.5) rotate(-90)" text-anchor="end" font-size="9" fill="#111" stroke="#111" stroke-width="0.2">OCT 2017</text>
<text transform="translate(235.99,353.5) rotate(-90)" text-anchor="end" font-size="9" fill="#111" stroke="#111" stroke-width="0.2">NOV 2017</text>
<text transform="translate(251.33,353.5) rotate(-90)" text-anchor="end" font-size="9" fill="#111" stroke="#111" stroke-width="0.2">DEC 2017</text>
<text transform="translate(266.66,353.5) rotate(-90)" text-anchor="end" font-size="9" fill="#111" stroke="#111" stroke-width="0.2">JAN 2018</text>
<text transform="translate(281.99,353.5) rotate(-90)" text-anchor="end" font-size="9" fill="#111" stroke="#111" stroke-width="0.2">FEB 2018</text>
<text transform="translate(297.32,353.5) rotate(-90)" text-anchor="end" font-size="9" fill="#111" stroke="#111" stroke-width="0.2">MARCH 2018</text>
<text transform="translate(312.65,353.5) rotate(-90)" text-anchor="end" font-size="9" fill="#111" stroke="#111" stroke-width="0.2">APRIL 2018</text>
<text transform="translate(327.99,353.5) rotate(-90)" text-anchor="end" font-size="9" fill="#111" stroke="#111" stroke-width="0.2">MAY 2018</text>
<text transform="translate(343.32,353.5) rotate(-90)" text-anchor="end" font-size="9" fill="#111" stroke="#111" stroke-width="0.2">JUNE 2018</text>
<text transform="translate(358.65,353.5) rotate(-90)" text-anchor="end" font-size="9" fill="#111" stroke="#111" stroke-width="0.2">JULY 2018</text>
<text transform="translate(373.98,353.5) rotate(-90)" text-anchor="end" font-size="9" fill="#111" stroke="#111" stroke-width="0.2">AUG 2018</text>
<text transform="translate(389.31,353.5) rotate(-90)" text-anchor="end" font-size="9" fill="#111" stroke="#111" stroke-width="0.2">SEPT 2018</text>
<text transform="translate(404.64,353.5) rotate(-90)" text-anchor="end" font-size="9" fill="#111" stroke="#111" stroke-width="0.2">OCT 2018</text>
<text transform="translate(419.98,353.5) rotate(-90)" text-anchor="end" font-size="9" fill="#111" stroke="#111" stroke-width="0.2">NOV 2018</text>
<text transform="translate(435.31,353.5) rotate(-90)" text-anchor="end" font-size="9" fill="#111" stroke="#111" stroke-width="0.2">DEC 2018</text>
<text transform="translate(450.64,353.5) rotate(-90)" text-anchor="end" font-size="9" fill="#111" stroke="#111" stroke-width="0.2">JAN 2019</text>
<text transform="translate(465.97,353.5) rotate(-90)" text-anchor="end" font-size="9" fill="#111" stroke="#111" stroke-width="0.2">FEB 2019</text>
<text transform="translate(481.3,353.5) rotate(-90)" text-anchor="end" font-size="9" fill="#111" stroke="#111" stroke-width="0.2">MARCH 2019</text>
<text transform="translate(496.63,353.5) rotate(-90)" text-anchor="end" font-size="9" fill="#111" stroke="#111" stroke-width="0.2">APRIL 2019</text>
<text transform="translate(511.97,353.5) rotate(-90)" text-anchor="end" font-size="9" fill="#111" stroke="#111" stroke-width="0.2">MAY 2019</text>
<text transform="translate(527.3,353.5) rotate(-90)" text-anchor="end" font-size="9" fill="#111" stroke="#111" stroke-width="0.2">JUNE 2019</text>
<text transform="translate(542.63,353.5) rotate(-90)" text-anchor="end" font-size="9" fill="#111" stroke="#111" stroke-width="0.2">JULY 2019</text>
<text transform="translate(557.96,353.5) rotate(-90)" text-anchor="end" font-size="9" fill="#111" stroke="#111" stroke-width="0.2">AUG 2019</text>
<text transform="translate(573.29,353.5) rotate(-90)" text-anchor="end" font-size="9" fill="#111" stroke="#111" stroke-width="0.2">SEPT 2019</text>
<text transform="translate(588.63,353.5) rotate(-90)" text-anchor="end" font-size="9" fill="#111" stroke="#111" stroke-width="0.2">OCT 2019</text>
<text transform="translate(603.96,353.5) rotate(-90)" text-anchor="end" font-size="9" fill="#111" stroke="#111" stroke-width="0.2">NOV 2019</text>
<text transform="translate(619.29,353.5) rotate(-90)" text-anchor="end" font-size="9" fill="#111" stroke="#111" stroke-width="0.2">DEC 2019</text>
<text transform="translate(634.62,353.5) rotate(-90)" text-anchor="end" font-size="9" fill="#111" stroke="#111" stroke-width="0.2">JAN 2020</text>
<text transform="translate(649.95,353.5) rotate(-90)" text-anchor="end" font-size="9" fill="#111" stroke="#111" stroke-width="0.2">FEB 2020</text>
<text transform="translate(665.28,353.5) rotate(-90)" text-anchor="end" font-size="9" fill="#111" stroke="#111" stroke-width="0.2">MARCH 2020</text>
<text transform="translate(680.62,353.5) rotate(-90)" text-anchor="end" font-size="9" fill="#111" stroke="#111" stroke-width="0.2">APRIL 2020</text>
<text transform="translate(695.95,353.5) rotate(-90)" text-anchor="end" font-size="9" fill="#111" stroke="#111" stroke-width="0.2">MAY 2020</text>
<text transform="translate(711.28,353.5) rotate(-90)" text-anchor="end" font-size="9" fill="#111" stroke="#111" stroke-width="0.2">JUNE 2020</text>
<text transform="translate(726.61,353.5) rotate(-90)" text-anchor="end" font-size="9" fill="#111" stroke="#111" stroke-width="0.2">JULY 2020</text>
<text transform="translate(741.94,353.5) rotate(-90)" text-anchor="end" font-size="9" fill="#111" stroke="#111" stroke-width="0.2">AUG 2020</text>
<text transform="translate(757.27,353.5) rotate(-90)" text-anchor="end" font-size="9" fill="#111" stroke="#111" stroke-width="0.2">SEPT 2020</text>
<text transform="translate(772.61,353.5) rotate(-90)" text-anchor="end" font-size="9" fill="#111" stroke="#111" stroke-width="0.2">OCT 2020</text>
<text transform="translate(787.94,353.5) rotate(-90)" text-anchor="end" font-size="9" fill="#111" stroke="#111" stroke-width="0.2">NOV 2020</text>
<text x="259.3" y="35.5" font-size="18.2" fill="#3d3d3d" stroke="#3d3d3d" stroke-width="0.9" textLength="303" lengthAdjust="spacingAndGlyphs">Gas Year Ahead Wholesale Prices P/TH</text>
<g fill="none" stroke="#47369a" stroke-width="1.7" stroke-linejoin="miter" stroke-linecap="butt">
<path d="M613.6,35.8 L625,62 L658.9,69.4 L670.6,58.9 L658.2,17.1"/>
<path d="M613.6,35.8 L656.6,51.6"/>
<path d="M653.8,15.5 L658.5,11 L670,20.8 Z"/>
<path d="M653.8,15.5 L658.9,69.4"/>
<path d="M639,45.5 L642.7,41.3 L656.6,48"/>
<path d="M625,62 L636.6,49.4 L656.6,55.2"/>
<path d="M636.6,49.4 L640.7,65.4"/>
</g>
<text x="686" y="38.9" font-family="Liberation Serif" font-size="19" fill="#4a3199" stroke="#4a3199" stroke-width="0.4" textLength="98" lengthAdjust="spacingAndGlyphs" style="font-family:'Liberation Serif',serif">IndigoSwan</text>
<text x="686" y="52.5" font-size="8.3" fill="#5a40a2" stroke="#5a40a2" stroke-width="0.2" textLength="97.7" lengthAdjust="spacingAndGlyphs">energy contract enthusiasts</text>
<text x="23.6" y="462.3" font-size="8.2" font-weight="bold" fill="#000" textLength="795.8" lengthAdjust="spacingAndGlyphs">The above graphs have been created by Indigo Swan on the basis of views and information which we believe to be reliable and accurate. However, Indigo Swan give no warranty as to the accuracy of the information</text>
<text x="201.2" y="473.5" font-size="8.2" font-weight="bold" fill="#000" textLength="440.6" lengthAdjust="spacingAndGlyphs">and accept no liability for any loss, damage or inconvenience caused as a result of reliance on such information. E &amp; OE</text>
</svg>
</body></html>
